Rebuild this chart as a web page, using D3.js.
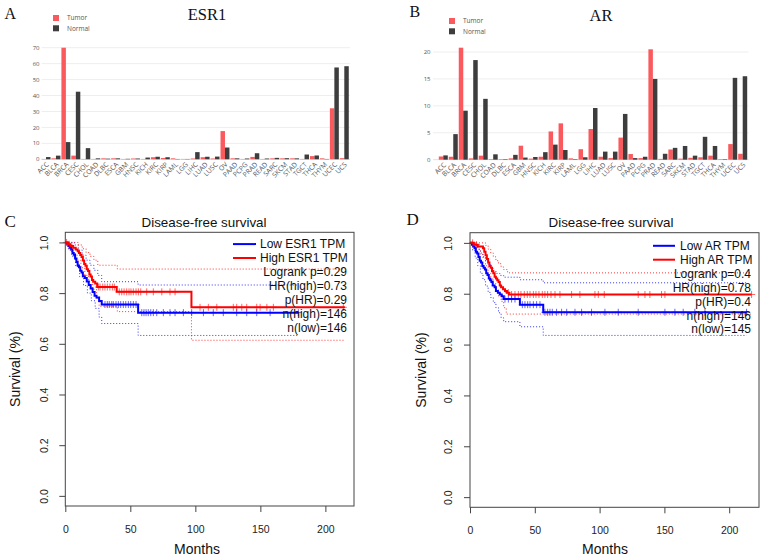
<!DOCTYPE html>
<html><head><meta charset="utf-8">
<script src="https://cdn.jsdelivr.net/npm/d3@7"></script>
<style>body{margin:0;background:#fff}svg{display:block}</style>
</head><body>
<svg id="fig" width="765" height="559"></svg>
<script>
// ---------- bar chart data ----------
const categories = ["ACC","BLCA","BRCA","CESC","CHOL","COAD","DLBC","ESCA","GBM","HNSC","KICH","KIRC","KIRP","LAML","LGG","LIHC","LUAD","LUSC","OV","PAAD","PCPG","PRAD","READ","SARC","SKCM","STAD","TGCT","THCA","THYM","UCEC","UCS"];
const esr1Tumor  = [0.2,0.6,70,2.3,0.2,0.2,0.6,0.6,0.2,0.5,0.2,1.3,0.8,0.6,0.2,0.5,1.3,0.5,17.7,0.6,0.2,1.5,0.2,0.6,0.6,0.6,0.2,2.0,0.6,32,0.7];
const esr1Normal = [1.4,2.3,10.8,42.4,7.0,0.6,0.4,0.6,0.3,0.5,1.1,1.6,1.3,0.2,0.2,4.5,1.6,1.7,7.4,0.6,0.5,3.8,0.5,0.9,0.7,0.6,3.0,2.4,0.2,57.6,58.4];
const arTumor  = [0.6,0.55,20.8,0.25,0.75,0.1,0.1,0.25,2.6,0.2,0.55,5.25,6.75,0.25,1.95,5.7,0.55,0.3,4.1,1.05,0.3,20.5,0.15,1.9,0.2,0.35,0.45,0.75,0.1,2.9,1.1];
const arNormal = [0.8,4.75,9.1,18.5,11.3,1.0,0.1,0.9,0.4,0.5,1.4,2.8,1.8,0.1,0.45,9.6,1.5,1.5,8.5,0.3,0.55,15.0,1.1,2.2,2.55,0.75,4.25,2.55,0.1,15.2,15.5];
const esr1Ticks = [0,10,20,30,40,50,60,70];
const arTicks = [0,5,10,15,20];
const legendLabels = ["Tumor","Normal"];

// ---------- survival data ([month, survival] step points) ----------
const monthTicks = [0,50,100,150,200];
const survTicks = [0,0.2,0.4,0.6,0.8,1.0];

const esr1HighCurve = [[0,1],[2,0.993],[4,0.986],[6,0.979],[8,0.972],[9.5,0.965],[10.5,0.958],[11.5,0.95],[12.5,0.943],[13.5,0.929],[14.5,0.915],[15.5,0.908],[16.5,0.894],[17.5,0.887],[18.5,0.873],[19.5,0.866],[20.5,0.852],[21.5,0.845],[23,0.838],[24.5,0.824],[39.5,0.805],[97,0.744]];
const esr1HighUpper = [[0,1],[10,0.99],[13,0.975],[16,0.96],[19,0.945],[22,0.93],[25,0.91],[40,0.895]];
const esr1HighLower = [[0,1],[3,0.97],[6,0.955],[9,0.93],[12,0.9],[15,0.87],[18,0.845],[21,0.815],[24,0.78],[26,0.748],[40,0.727],[97,0.614]];
const esr1HighCensor = [1,3,25.4,26.7,28.8,30.5,32.3,34.3,36.2,37.7,41.5,43.4,45.2,47.2,49,50.5,52.3,54.4,56.2,58,62.6,67.7,74.2,80.5,84.4,103.6,110,116.5,129.2,131.8,135.7,139.5,147.2,149.8,155,160,213.8];
const esr1HighEnd = 215;

const esr1LowCurve = [[0,1],[1.5,0.993],[2.5,0.986],[3.5,0.979],[4.5,0.972],[5.5,0.958],[6.5,0.951],[7.5,0.937],[8.5,0.923],[9.5,0.909],[10.5,0.902],[11.5,0.888],[12.5,0.881],[13.5,0.867],[15,0.86],[16.5,0.846],[18,0.832],[19.5,0.818],[21,0.804],[22.5,0.79],[24,0.783],[26,0.769],[28,0.755],[56,0.723]];
const esr1LowUpper = [[0,1],[7,0.99],[10,0.97],[13,0.95],[16,0.93],[19,0.91],[22,0.89],[25,0.87],[28,0.845],[56,0.832]];
const esr1LowLower = [[0,1],[2,0.975],[5,0.945],[8,0.905],[11,0.865],[14,0.83],[17,0.8],[20,0.77],[23,0.74],[26,0.705],[28,0.68],[56,0.633]];
const esr1LowCensor = [30.5,32.3,33.8,35.7,36.9,39,40.8,42.6,44.6,46.5,48.5,50.3,52.3,54.4,58.8,60.5,62.1,63.8,65.7,67.7,70.3,75.4,80.5,84.4,90.8,97.2,106.2,113.8,121.5,131.8,139.5,147.2,157.5,179.2];
const esr1LowEnd = 179.2;

const arHighCurve = [[0,1],[3,0.993],[6,0.986],[10,0.979],[11,0.965],[12,0.951],[13,0.937],[14,0.923],[15,0.909],[16,0.902],[17,0.888],[18,0.881],[19,0.867],[20,0.86],[21,0.853],[22,0.846],[23,0.832],[24,0.825],[25.5,0.818],[27,0.811],[28.5,0.804],[30,0.797]];
const arHighUpper = [[0,1],[12,0.99],[14,0.975],[16,0.96],[18,0.945],[20,0.93],[22,0.918],[24,0.905],[26,0.895],[29,0.882]];
const arHighLower = [[0,1],[4,0.975],[8,0.955],[10,0.94],[12,0.91],[14,0.88],[16,0.86],[18,0.84],[20,0.815],[22,0.79],[24,0.77],[26,0.745],[28,0.72]];
const arHighCensor = [2,5,29.6,32.1,34.7,37.3,39.3,41.9,44.2,46.3,48.9,50.9,53.2,55.8,57.8,59.9,62.5,65.6,69.4,78.4,84.8,96.4,99,103.6,129.8,135,138.8,147.8,150.4,217.3];
const arHighEnd = 217.3;

const arLowCurve = [[0,1],[1.5,0.993],[2.5,0.986],[3.5,0.979],[4.5,0.965],[5.5,0.958],[6.5,0.944],[7.5,0.93],[8.5,0.923],[9.5,0.909],[10.5,0.902],[11.5,0.895],[12.5,0.881],[13.5,0.874],[14.5,0.86],[15.5,0.853],[16.5,0.846],[17.5,0.832],[19,0.825],[20,0.811],[21.5,0.804],[23,0.797],[24.5,0.79],[26,0.779],[38.5,0.757],[56.5,0.727]];
const arLowUpper = [[0,1],[4,0.99],[6,0.975],[8,0.96],[10,0.945],[12,0.93],[14,0.915],[16,0.9],[18,0.89],[20,0.88],[23,0.872],[26,0.865],[38.5,0.855],[56.5,0.843]];
const arLowLower = [[0,1],[2,0.97],[4,0.94],[6,0.91],[8,0.88],[10,0.855],[12,0.83],[14,0.805],[16,0.785],[18,0.765],[20,0.745],[22,0.725],[24,0.705],[26,0.69],[38.5,0.67],[56.5,0.636]];
const arLowCensor = [27,29.6,32.1,34.7,40.4,42.4,44.5,46.3,48.9,51.4,54,57.8,59.9,61.7,63.5,66.8,70.7,74.6,81,86.1,93.8,104.1,114.4,129.8,150.4,158.1,164.5,173.5,181.3,213.4];
const arLowEnd = 213.4;

const esr1Legend = ["Low ESR1 TPM","High ESR1 TPM"];
const esr1Stats = ["Logrank p=0.29","HR(high)=0.73","p(HR)=0.29","n(high)=146","n(low)=146"];
const arLegend = ["Low AR TPM","High AR TPM"];
const arStats = ["Logrank p=0.4","HR(high)=0.78","p(HR)=0.4","n(high)=146","n(low)=145"];

// ---------- drawing ----------
const svg = d3.select("#fig");
svg.append("rect").attr("width",765).attr("height",559).attr("fill","#fff");
const TUMOR = "#fa5a5d", NORMAL = "#3d3d3d";
const serif = "'Liberation Serif','Times New Roman',serif";
const sans = "'Liberation Sans',Arial,sans-serif";
const plotlyFont = "'Open Sans',sans-serif";

function drawBars(c) {
  const g = svg.append("g");
  const x = d3.scaleBand(categories, [c.x0, c.x1]).paddingInner(0.1).paddingOuter(0.05);
  const sub = d3.scaleBand(["t","n"], [0, x.bandwidth()]);
  const y = d3.scaleLinear([0, c.max], [c.yBottom, c.yTop]);
  // grid
  g.selectAll(".grid").data(c.ticks).join("line")
    .attr("x1", c.gridX0).attr("x2", c.gridX1)
    .attr("y1", d => y(d)).attr("y2", d => y(d))
    .attr("stroke", d => d === 0 ? "#e2e2e2" : "#eeeeee").attr("stroke-width", 1);
  // y tick labels
  g.selectAll(".yt").data(c.ticks).join("text")
    .attr("x", c.tickLabelX).attr("y", d => y(d)).attr("dy", "0.35em")
    .attr("text-anchor", "end").attr("font-family", plotlyFont).attr("font-size", 6)
    .attr("fill", "#555").text(d => d);
  // bars
  const grp = g.selectAll(".grp").data(categories).join("g")
    .attr("transform", d => `translate(${x(d)},0)`);
  grp.append("rect").attr("x", sub("t")).attr("width", sub.bandwidth())
    .attr("y", (d, i) => y(c.tumor[i])).attr("height", (d, i) => y(0) - y(c.tumor[i]))
    .attr("fill", TUMOR);
  grp.append("rect").attr("x", sub("n")).attr("width", sub.bandwidth())
    .attr("y", (d, i) => y(c.normal[i])).attr("height", (d, i) => y(0) - y(c.normal[i]))
    .attr("fill", NORMAL);
  // x labels
  g.selectAll(".xl").data(categories).join("text")
    .attr("transform", d => `translate(${x(d) + x.bandwidth()/2 + 1.5},${c.yBottom + 4}) rotate(-45)`)
    .attr("text-anchor", "end").attr("dy", "0.35em")
    .attr("font-family", plotlyFont).attr("font-size", 6.8).attr("fill", "#555").text(d => d);
  // legend
  legendLabels.forEach((lab, i) => {
    g.append("rect").attr("x", c.legX).attr("y", c.legY + i * 10.3).attr("width", 6).attr("height", 6)
      .attr("fill", i === 0 ? TUMOR : NORMAL);
    g.append("text").attr("x", c.legX + 14).attr("y", c.legY + 3 + i * 10.3).attr("dy", "0.35em")
      .attr("font-family", plotlyFont).attr("font-size", 6.5).attr("fill", "#555").text(lab);
  });
  // title & letter
  g.append("text").attr("x", c.titleX).attr("y", c.titleY).attr("text-anchor", "middle")
    .attr("font-family", serif).attr("font-size", 16.5).attr("fill", "#111").text(c.title);
  g.append("text").attr("x", c.letterX).attr("y", c.letterY)
    .attr("font-family", serif).attr("font-size", 16).attr("fill", "#111").text(c.letter);
}

drawBars({tumor: esr1Tumor, normal: esr1Normal, max: 70, ticks: esr1Ticks,
  x0: 41.03, x1: 349.27, yBottom: 159.3, yTop: 47.7, gridX0: 41.5, gridX1: 350, tickLabelX: 39.5,
  title: "ESR1", titleX: 207, titleY: 20, letter: "A", letterX: 4.5, letterY: 18.5, legX: 53, legY: 15});
drawBars({tumor: arTumor, normal: arNormal, max: 20, ticks: arTicks,
  x0: 438.3, x1: 747.7, yBottom: 159.7, yTop: 52, gridX0: 433, gridX1: 748.5, tickLabelX: 430.5,
  title: "AR", titleX: 601, titleY: 21, letter: "B", letterX: 409.5, letterY: 17, legX: 449, legY: 18});

function stepVal(pts, t) {
  let v = pts[0][1];
  for (const p of pts) { if (p[0] <= t) v = p[1]; }
  return v;
}

function drawKM(c) {
  const g = svg.append("g");
  const x = d3.scaleLinear([0, c.xMax], [c.left, c.right]);
  const y = d3.scaleLinear([-0.04, 1.04], [c.bottom, c.top]);
  const line = d3.line().x(d => x(d[0])).y(d => y(d[1])).curve(d3.curveStepAfter);
  const withEnd = (pts, end) => pts.concat([[end, pts[pts.length - 1][1]]]);
  const groups = [
    {curve: c.low, upper: c.lowUp, lower: c.lowLo, censor: c.lowCensor, end: c.lowEnd, color: "#0000ff"},
    {curve: c.high, upper: c.highUp, lower: c.highLo, censor: c.highCensor, end: c.highEnd, color: "#ff0000"}
  ];
  groups.forEach(s => {
    [s.upper, s.lower].forEach(ci => {
      g.append("path").attr("d", line(withEnd(ci, s.end))).attr("fill", "none")
        .attr("stroke", s.color).attr("stroke-width", 1).attr("stroke-dasharray", "1,2").attr("opacity", 0.8);
    });
  });
  groups.forEach(s => {
    g.append("path").attr("d", line(withEnd(s.curve, s.end))).attr("fill", "none")
      .attr("stroke", s.color).attr("stroke-width", 2);
    const m = g.append("g").attr("stroke", s.color).attr("stroke-width", 1).attr("opacity", 0.6);
    s.censor.forEach(t => {
      const cx = x(t), cy = y(stepVal(s.curve, t));
      m.append("line").attr("x1", cx).attr("x2", cx).attr("y1", cy - 3.5).attr("y2", cy + 3.5);
      m.append("line").attr("x1", cx - 3.5).attr("x2", cx + 3.5).attr("y1", cy).attr("y2", cy);
    });
  });
  // box
  g.append("rect").attr("x", c.left).attr("y", c.top).attr("width", c.right - c.left)
    .attr("height", c.bottom - c.top).attr("fill", "none").attr("stroke", "#444").attr("stroke-width", 1);
  // x axis
  const xa = g.append("g").attr("transform", `translate(0,${c.bottom})`)
    .call(d3.axisBottom(x).tickValues(monthTicks).tickSize(6).tickPadding(13.5).tickFormat(d3.format("d")));
  xa.select(".domain").remove();
  xa.selectAll("line").attr("stroke", "#444");
  xa.selectAll("text").attr("font-family", sans).attr("font-size", 10.5).attr("fill", "#222");
  // y axis
  const ya = g.append("g").attr("transform", `translate(${c.left},0)`)
    .call(d3.axisLeft(y).tickValues(survTicks).tickSize(6).tickFormat(d3.format(".1f")));
  ya.select(".domain").remove();
  ya.selectAll("line").attr("stroke", "#444");
  ya.selectAll("text").attr("x", null).attr("dy", null)
    .attr("transform", `translate(${c.yLabX - c.left},0) rotate(-90)`).attr("text-anchor", "middle")
    .attr("font-family", sans).attr("font-size", 10.5).attr("fill", "#222");
  // labels
  g.append("text").attr("x", c.titleX).attr("y", c.titleY).attr("text-anchor", "middle")
    .attr("font-family", sans).attr("font-size", 13.4).attr("fill", "#111").text("Disease-free survival");
  g.append("text").attr("x", c.monthsX).attr("y", 554).attr("text-anchor", "middle")
    .attr("font-family", sans).attr("font-size", 14).attr("fill", "#111").text("Months");
  g.append("text").attr("transform", `translate(${c.survX},${(c.top + c.bottom) / 2}) rotate(-90)`)
    .attr("text-anchor", "middle").attr("font-family", sans).attr("font-size", 14).attr("fill", "#111").text("Survival (%)");
  g.append("text").attr("x", c.letterX).attr("y", c.letterY)
    .attr("font-family", serif).attr("font-size", 17).attr("fill", "#111").text(c.letter);
  // legend
  const lineH = 13.9;
  c.legend.forEach((lab, i) => {
    const by = c.legBase + i * lineH;
    g.append("line").attr("x1", c.legLineX0).attr("x2", c.legLineX1)
      .attr("y1", by - 4.2).attr("y2", by - 4.2).attr("stroke", i === 0 ? "#0000ff" : "#ff0000").attr("stroke-width", 2);
    g.append("text").attr("x", c.legTextX).attr("y", by).attr("font-family", sans)
      .attr("font-size", 12).attr("fill", "#111").text(lab);
  });
  c.stats.forEach((lab, i) => {
    g.append("text").attr("x", c.statsRight).attr("y", c.legBase + (i + 2) * lineH)
      .attr("text-anchor", "end").attr("font-family", sans).attr("font-size", 12).attr("fill", "#111").text(lab);
  });
}

drawKM({xMax: 222, left: 65.3, right: 354, top: 232.3, bottom: 506,
  low: esr1LowCurve, lowUp: esr1LowUpper, lowLo: esr1LowLower, lowCensor: esr1LowCensor, lowEnd: esr1LowEnd,
  high: esr1HighCurve, highUp: esr1HighUpper, highLo: esr1HighLower, highCensor: esr1HighCensor, highEnd: esr1HighEnd,
  yLabX: 47.5, titleX: 204, titleY: 226.5, monthsX: 197, survX: 19.5, letter: "C", letterX: 4.5, letterY: 227,
  legend: esr1Legend, stats: esr1Stats, legBase: 248.3, legLineX0: 233, legLineX1: 256, legTextX: 260, statsRight: 347});
drawKM({xMax: 223, left: 470, right: 759, top: 232.7, bottom: 507.3,
  low: arLowCurve, lowUp: arLowUpper, lowLo: arLowLower, lowCensor: arLowCensor, lowEnd: arLowEnd,
  high: arHighCurve, highUp: arHighUpper, highLo: arHighLower, highCensor: arHighCensor, highEnd: arHighEnd,
  yLabX: 452, titleX: 611, titleY: 227, monthsX: 605, survX: 426, letter: "D", letterX: 406.5, letterY: 225,
  legend: arLegend, stats: arStats, legBase: 250, legLineX0: 653, legLineX1: 675, legTextX: 680, statsRight: 751});
</script>
</body></html>
